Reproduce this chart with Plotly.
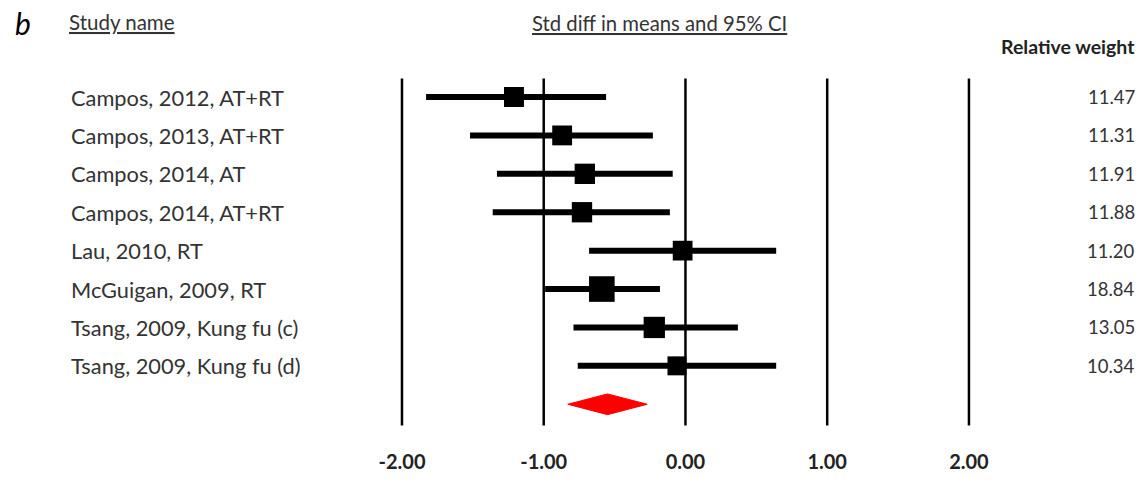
import plotly.graph_objects as go

# Forest plot: standardized difference in means with 95% CI
STUDIES = [
    "Campos, 2012, AT+RT",
    "Campos, 2013, AT+RT",
    "Campos, 2014, AT",
    "Campos, 2014, AT+RT",
    "Lau, 2010, RT",
    "McGuigan, 2009, RT",
    "Tsang, 2009, Kung fu (c)",
    "Tsang, 2009, Kung fu (d)",
]
EST = [-1.21, -0.87, -0.71, -0.73, -0.02, -0.59, -0.22, -0.06]
LOW = [-1.83, -1.52, -1.33, -1.36, -0.68, -0.99, -0.79, -0.76]
HIGH = [-0.56, -0.23, -0.09, -0.11, 0.64, -0.18, 0.37, 0.64]
WEIGHTS = [11.47, 11.31, 11.91, 11.88, 11.20, 18.84, 13.05, 10.34]

POOLED = dict(est=-0.55, low=-0.83, high=-0.27)
TICKS = [-2, -1, 0, 1, 2]
TICK_LABELS = ["-2.00", "-1.00", "0.00", "1.00", "2.00"]

FONT = "Lato, 'Open Sans', sans-serif"
TXT = "#333333"
W, H = 1144, 483

rows = list(range(len(STUDIES)))
pooled_row = len(STUDIES)

fig = go.Figure()

# reference lines
for t in TICKS:
    fig.add_shape(type="line", x0=t, x1=t, y0=-0.48, y1=8.55,
                  xref="x", yref="y", line=dict(color="black", width=2.5))

# CI lines
for i in rows:
    fig.add_trace(go.Scatter(
        x=[LOW[i], HIGH[i]], y=[i, i], mode="lines",
        line=dict(color="black", width=6), showlegend=False, hoverinfo="skip",
    ))

# point estimates, sized by weight
fig.add_trace(go.Scatter(
    x=EST, y=rows, mode="markers",
    marker=dict(symbol="square", color="black", opacity=1,
                size=[20 * (w / 11.5) ** 0.5 for w in WEIGHTS],
                line=dict(width=0)),
    showlegend=False,
))

# pooled diamond
fig.add_trace(go.Scatter(
    x=[POOLED["low"], POOLED["est"], POOLED["high"], POOLED["est"], POOLED["low"]],
    y=[pooled_row, pooled_row - 0.27, pooled_row, pooled_row + 0.27, pooled_row],
    mode="lines", fill="toself", fillcolor="#ff0000",
    line=dict(color="#ff0000", width=1), showlegend=False,
))

# tick labels
fig.add_trace(go.Scatter(
    x=TICKS, y=[9.55] * len(TICKS), mode="text",
    text=[f"<b>{t}</b>" for t in TICK_LABELS],
    textfont=dict(family=FONT, size=20, color="#222222"),
    showlegend=False,
))

# study labels and weights
for i in rows:
    fig.add_annotation(x=69 / W, xref="paper", y=i, yref="y",
                       text=STUDIES[i], showarrow=False, xanchor="left",
                       yanchor="middle",
                       font=dict(family=FONT, size=21.8, color=TXT))
    fig.add_annotation(x=1137 / W, xref="paper", y=i, yref="y",
                       text=f"{WEIGHTS[i]:.2f}", showarrow=False, xanchor="right",
                       yanchor="middle",
                       font=dict(family=FONT, size=18.5, color=TXT))

# headers
fig.add_annotation(x=13 / W, xref="paper", y=1 - 23 / H, yref="paper",
                   text="<i>b</i>", showarrow=False, xanchor="left",
                   yanchor="middle",
                   font=dict(family=FONT, size=30, color="black"))
fig.add_annotation(x=67 / W, xref="paper", y=1 - 22 / H, yref="paper",
                   text="<u>Study name</u>", showarrow=False, xanchor="left",
                   yanchor="middle",
                   font=dict(family=FONT, size=20.5, color=TXT))
fig.add_annotation(x=660 / W, xref="paper", y=1 - 23 / H, yref="paper",
                   text="<u>Std diff in means and 95% CI</u>", showarrow=False,
                   xanchor="center", yanchor="middle",
                   font=dict(family=FONT, size=20.3, color=TXT))
fig.add_annotation(x=1137 / W, xref="paper", y=1 - 46 / H, yref="paper",
                   text="<b>Relative weight</b>", showarrow=False, xanchor="right",
                   yanchor="middle",
                   font=dict(family=FONT, size=19.5, color="#222222"))

fig.update_layout(
    width=W, height=H,
    margin=dict(l=0, r=0, t=0, b=0),
    paper_bgcolor="white", plot_bgcolor="white",
    xaxis=dict(range=[-4.836, 3.235], visible=False, fixedrange=True),
    yaxis=dict(range=[10.05, -2.526], visible=False, fixedrange=True),
    showlegend=False,
)

fig.write_html("out.html", config={"displayModeBar": False},
               post_script="document.body.style.margin='0';")
